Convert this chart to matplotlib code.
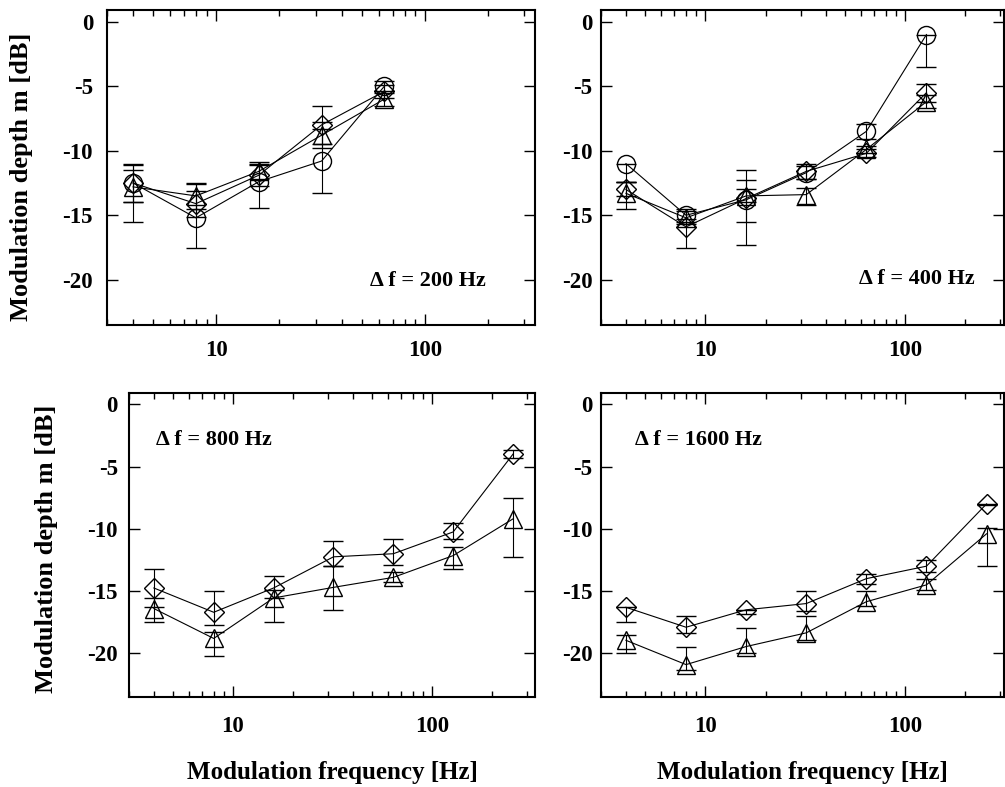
import matplotlib
matplotlib.use('Agg')
import matplotlib.pyplot as plt
from matplotlib.ticker import FixedLocator, NullFormatter

plt.rcParams['font.family'] = ['Liberation Serif', 'DejaVu Serif']
plt.rcParams['font.weight'] = 'bold'

# modulation frequencies [Hz]
fm = [4, 8, 16, 32, 64, 128, 256]

# df = 200 Hz (circle / diamond / triangle), values and lower / upper errors in dB
m200_circ = [-12.5, -15.2, -12.4, -10.8, -5.0]
m200_circ_lo = [1.5, 2.3, 2.0, 2.5, 0.4]
m200_circ_hi = [1.5, 2.6, 1.5, 2.5, 0.4]
m200_diam = [-12.5, -14.1, -11.9, -8.0, -5.4]
m200_diam_lo = [1.5, 1.0, 0.8, 1.5, 0.5]
m200_diam_hi = [1.0, 1.0, 0.8, 1.5, 0.5]
m200_tri = [-12.8, -13.5, -11.6, -8.8, -6.0]
m200_tri_lo = [2.7, 1.0, 0.6, 1.0, 0.5]
m200_tri_hi = [1.7, 1.0, 0.6, 1.0, 0.5]

# df = 400 Hz
m400_circ = [-11.0, -15.0, -13.8, -11.7, -8.5, -1.0]
m400_circ_lo = [1.4, 0.5, 3.5, 0.5, 0.6, 2.5]
m400_circ_hi = [0.0, 0.5, 2.3, 0.5, 0.6, 0.0]
m400_diam = [-13.0, -15.9, -13.7, -11.6, -10.2, -5.5]
m400_diam_lo = [0.5, 1.6, 1.8, 0.6, 0.3, 0.7]
m400_diam_hi = [0.6, 0.6, 1.4, 0.6, 0.3, 0.7]
m400_tri = [-13.3, -15.2, -13.5, -13.4, -9.9, -6.2]
m400_tri_lo = [1.2, 0.5, 0.5, 0.8, 0.3, 0.5]
m400_tri_hi = [0.9, 0.5, 0.5, 0.5, 0.3, 0.5]

# df = 800 Hz
m800_diam = [-14.75, -16.7, -14.75, -12.25, -12.0, -10.25, -4.0]
m800_diam_lo = [1.5, 1.0, 0.8, 0.75, 0.9, 0.6, 0.3]
m800_diam_hi = [1.5, 1.7, 1.0, 1.25, 1.2, 0.75, 0.3]
m800_tri = [-16.4, -18.8, -15.55, -14.7, -13.9, -12.15, -9.2]
m800_tri_lo = [1.1, 1.4, 1.95, 1.8, 0.4, 1.05, 3.05]
m800_tri_hi = [0.85, 0.5, 0.6, 1.7, 0.4, 0.65, 1.7]

# df = 1600 Hz
m1600_diam = [-16.3, -17.9, -16.5, -16.0, -14.0, -13.0, -8.0]
m1600_diam_lo = [1.2, 0.5, 0.3, 0.6, 0.4, 0.5, 0.1]
m1600_diam_hi = [0.0, 0.9, 0.0, 1.0, 0.4, 0.5, 0.0]
m1600_tri = [-18.95, -20.9, -19.45, -18.35, -15.85, -14.5, -10.4]
m1600_tri_lo = [1.05, 0.4, 0.5, 0.55, 0.35, 0.4, 2.55]
m1600_tri_hi = [0.4, 1.4, 1.45, 1.35, 0.85, 0.5, 0.45]

yticks = [0, -5, -10, -15, -20]
ytick_labels = ['0', '-5', '-10', '-15', '-20']
xticks = [10, 100]
xtick_labels = ['10', '100']
minor_x = [3, 4, 5, 6, 7, 8, 9, 20, 30, 40, 50, 60, 70, 80, 90, 200, 300]

W, H = 1005, 787
fig = plt.figure(figsize=(W / 100, H / 100), dpi=100)


def rect(l, t, r, b):
    return [l / W, 1 - b / H, (r - l) / W, (b - t) / H]


ax_tl = fig.add_axes(rect(107, 10, 535, 325))
ax_tr = fig.add_axes(rect(601, 10, 1004, 325))
ax_bl = fig.add_axes(rect(129, 393, 535, 697))
ax_br = fig.add_axes(rect(601, 393, 1004, 697))

style = dict(color='black', lw=0.8, mfc='none', mec='black', mew=1.0,
             ecolor='black', elinewidth=0.8, capsize=7, capthick=0.8)


def series(ax, y, lo, hi, marker, ms):
    x = fm[:len(y)]
    ax.errorbar(x, y, yerr=[lo, hi], marker=marker, ms=ms, **style)


series(ax_tl, m200_circ, m200_circ_lo, m200_circ_hi, 'o', 13)
series(ax_tl, m200_diam, m200_diam_lo, m200_diam_hi, 'D', 10.5)
series(ax_tl, m200_tri, m200_tri_lo, m200_tri_hi, '^', 13)

series(ax_tr, m400_circ, m400_circ_lo, m400_circ_hi, 'o', 13)
series(ax_tr, m400_diam, m400_diam_lo, m400_diam_hi, 'D', 10.5)
series(ax_tr, m400_tri, m400_tri_lo, m400_tri_hi, '^', 13)

series(ax_bl, m800_diam, m800_diam_lo, m800_diam_hi, 'D', 10.5)
series(ax_bl, m800_tri, m800_tri_lo, m800_tri_hi, '^', 13)

series(ax_br, m1600_diam, m1600_diam_lo, m1600_diam_hi, 'D', 10.5)
series(ax_br, m1600_tri, m1600_tri_lo, m1600_tri_hi, '^', 13)

panels = [(ax_tl, 337, 10, 11, '\u0394 f = 200 Hz', 0.614, 0.14),
          (ax_tr, 313, 6, 11, '\u0394 f = 400 Hz', 0.639, 0.145),
          (ax_bl, 330, 8, 14, '\u0394 f = 800 Hz', 0.066, 0.845),
          (ax_br, 313, 6, 14, '\u0394 f = 1600 Hz', 0.085, 0.845)]

for ax, xmax, ypad, xpad, txt, tx, ty in panels:
    ax.set_xscale('log')
    ax.set_xlim(3, xmax)
    ax.set_ylim(-23.5, 0.9)
    ax.xaxis.set_major_locator(FixedLocator(xticks))
    ax.set_xticklabels(xtick_labels)
    ax.xaxis.set_minor_locator(FixedLocator(minor_x))
    ax.xaxis.set_minor_formatter(NullFormatter())
    ax.set_yticks(yticks)
    ax.set_yticklabels(ytick_labels)
    ax.tick_params(which='both', direction='in', top=True, right=True,
                   width=1.0, labelsize=16.5)
    ax.tick_params(which='major', length=8)
    ax.tick_params(which='minor', length=4)
    ax.tick_params(axis='y', pad=ypad)
    ax.tick_params(axis='x', pad=xpad)
    for s in ax.spines.values():
        s.set_linewidth(1.5)
    ax.text(tx, ty, txt, transform=ax.transAxes, fontsize=16,
            fontweight='bold', va='center', ha='left')

fig.text(22 / W, 1 - 177 / H, 'Modulation depth m [dB]', rotation=90,
         fontsize=19, fontweight='bold', ha='center', va='center')
fig.text(47 / W, 1 - 549 / H, 'Modulation depth m [dB]', rotation=90,
         fontsize=19, fontweight='bold', ha='center', va='center')
fig.text(332 / W, 1 - 773 / H, 'Modulation frequency [Hz]',
         fontsize=18, fontweight='bold', ha='center', va='center')
fig.text(802 / W, 1 - 773 / H, 'Modulation frequency [Hz]',
         fontsize=18, fontweight='bold', ha='center', va='center')

fig.savefig('out.png', dpi=100)
